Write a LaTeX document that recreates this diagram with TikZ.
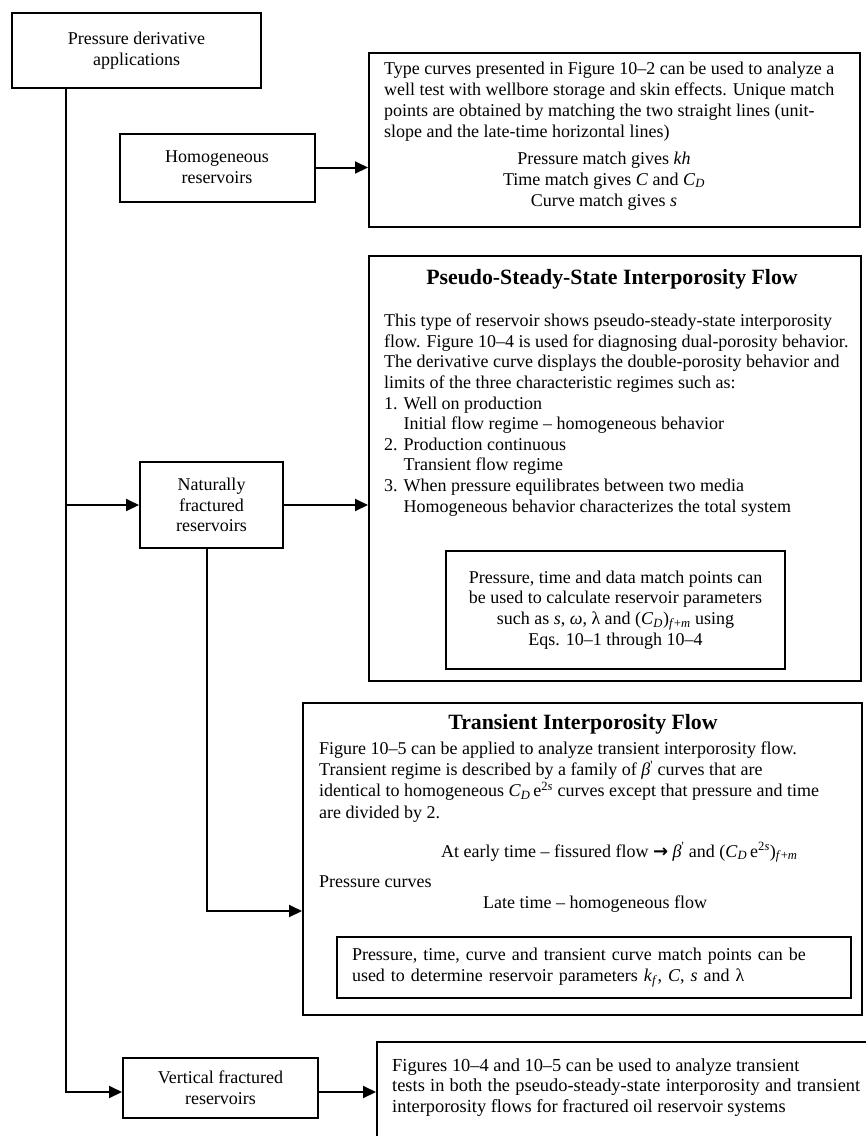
\documentclass[tikz,border=0pt]{standalone}
\usepackage{fontspec}
\setmainfont{Liberation Serif}
\newfontfamily\symfont{DejaVu Sans}
\usetikzlibrary{arrows.meta}

\begin{document}
\begin{tikzpicture}[x=1pt,y=-1pt]
	\tikzset{every node/.style = {inner sep=0pt, font=\fontsize{18pt}{20.7pt}\selectfont},
		box/.style = {draw, line width=2pt, align=center},
		title/.style = {font=\fontsize{21.8pt}{24pt}\selectfont\bfseries},
		link/.style = {line width=2pt, -{Triangle[length=13pt,width=12pt]}}}

	\useasboundingbox (0,0) rectangle (866,1136);
	\clip (0,0) rectangle (866,1136);

	\node[box, minimum width=249pt, minimum height=75pt] (pda) at (136.5,50.5) {Pressure derivative\\applications};
	\node[box, minimum width=195pt, minimum height=68pt] (hom) at (217,167.5) {Homogeneous\\reservoirs};
	\node[box, minimum width=143pt, minimum height=86pt] (nfr) at (211.5,505) {Naturally\\fractured\\reservoirs};
	\node[box, minimum width=195pt, minimum height=60pt] (vfr) at (220.5,1088) {Vertical fractured\\reservoirs};

	\node[box, minimum width=491pt, minimum height=174pt] (tc) at (614.5,140) {};
	\node[anchor=base west, align=left] (tc-text) at (384,137) {Type curves presented in Figure 10–2 can be used to analyze a\\
		well test with wellbore storage and skin effects. Unique match\\
		points are obtained by matching the two straight lines (unit-\\
		slope and the late-time horizontal lines)};
	\node[anchor=base, align=center] (tc-match) at (604,206) {Pressure match gives \textit{kh}\\
		Time match gives \textit{C} and \textit{C}\textsubscript{\textit{D}}\\
		Curve match gives \textit{s}};

	\node[box, minimum width=492pt, minimum height=425pt] (pss) at (615,468.5) {};
	\node[title, anchor=base] (pss-title) at (612,284) {Pseudo-Steady-State Interporosity Flow};
	\node[anchor=base west, align=left, font=\fontsize{18pt}{20.6pt}\selectfont] (pss-text) at (384,512) {This type of reservoir shows pseudo-steady-state interporosity\\
		flow. Figure 10–4 is used for diagnosing dual-porosity behavior.\\
		The derivative curve displays the double-porosity behavior and\\
		limits of the three characteristic regimes such as:\\
		1. Well on production\\
		\hphantom{1. }Initial flow regime – homogeneous behavior\\
		2. Production continuous\\
		\hphantom{2. }Transient flow regime\\
		3. When pressure equilibrates between two media\\
		\hphantom{3. }Homogeneous behavior characterizes the total system};
	\node[box, minimum width=339pt, minimum height=118pt] (pss-match) at (615.5,610) {Pressure, time and data match points can\\
		be used to calculate reservoir parameters\\
		such as \textit{s}, \textit{ω}, λ and (\textit{C}\textsubscript{\textit{D}})\textsubscript{\textit{f}+\textit{m}} using\\
		Eqs. 10–1 through 10–4};

	\node[box, minimum width=559pt, minimum height=312pt] (tif) at (582.5,859) {};
	\node[title, anchor=base] (tif-title) at (583,729) {Transient Interporosity Flow};
	\node[anchor=base west, align=left, font=\fontsize{18pt}{21.3pt}\selectfont] (tif-text) at (319,818) {Figure 10–5 can be applied to analyze transient interporosity flow.\\
		Transient regime is described by a family of \textit{β}\textsuperscript{\textquotesingle} curves that are\\
		identical to homogeneous \textit{C}\textsubscript{\textit{D}}\,e\textsuperscript{2\textit{s}} curves except that pressure and time\\
		are divided by 2.};
	\node[anchor=base west] (tif-early) at (441,857) {At early time – fissured flow {\symfont\bfseries →} \textit{β}\textsuperscript{\textquotesingle} and (\textit{C}\textsubscript{\textit{D}}\,e\textsuperscript{2\textit{s}})\textsubscript{\textit{f}+\textit{m}}};
	\node[anchor=base west] (tif-curves) at (319,887) {Pressure curves};
	\node[anchor=base] (tif-late) at (595,908) {Late time – homogeneous flow};
	\node[box, minimum width=514pt, minimum height=61pt, text width=484pt, align=left] (tif-match) at (594,967.5) {Pressure, time, curve and transient curve match points can be\\
		used to determine reservoir parameters \textit{k}\textsubscript{\textit{f}}, \textit{C}, \textit{s} and λ};

	\node[box, minimum width=503pt, minimum height=108pt] (fig) at (628.5,1096) {};
	\node[anchor=base west, align=left, font=\fontsize{18.4pt}{20.5pt}\selectfont] (fig-text) at (392,1112) {Figures 10–4 and 10–5 can be used to analyze transient\\
		\makebox[468pt][s]{tests in both the pseudo-steady-state interporosity and transient}\\
		interporosity flows for fractured oil reservoir systems};

	\coordinate (trunk) at (66,0);
	\coordinate (drop) at (207,911);

	\draw[link] (pda.south -| trunk) |- ([yshift=-4pt]vfr.west);
	\draw[link] (trunk |- nfr.west) -- (nfr.west);
	\draw[link] (hom.east) -- (hom.east -| tc.west);
	\draw[link] (nfr.east) -- (nfr.east -| pss.west);
	\draw[link] (nfr.south -| drop) |- (drop -| tif.west);
	\draw[link] ([yshift=-4pt]vfr.east) -- ([yshift=-4pt]vfr.east -| fig.west);

\end{tikzpicture}
\end{document}
